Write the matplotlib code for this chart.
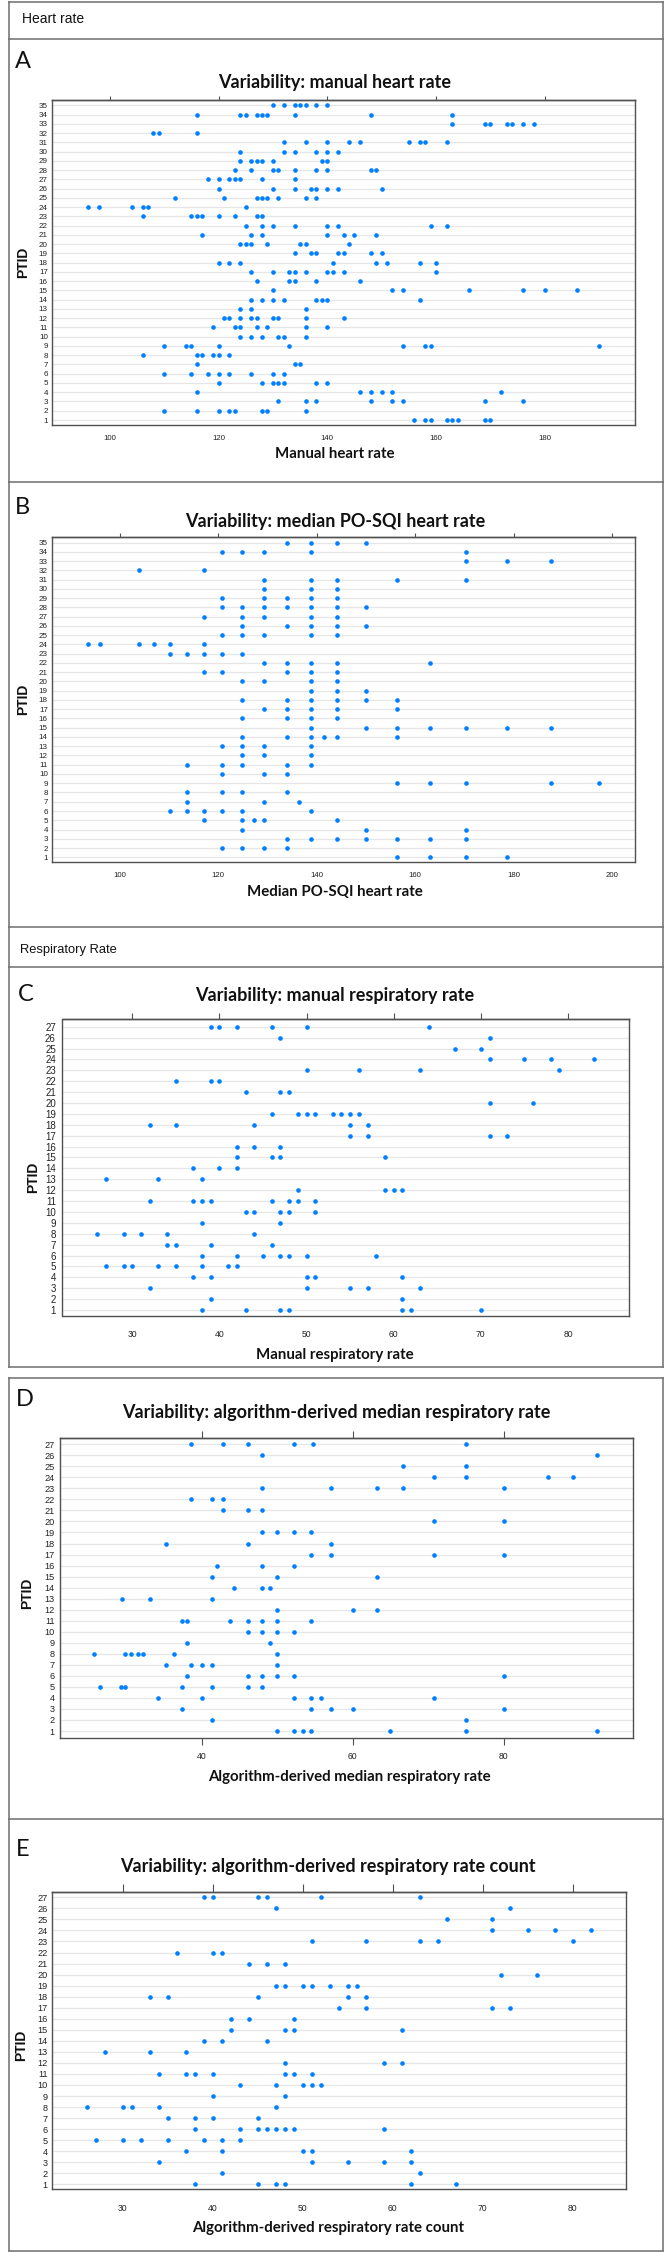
import matplotlib
matplotlib.use("Agg")
import matplotlib.pyplot as plt
from matplotlib.lines import Line2D

# ---------------- data (values per PTID, PTID 1 first) ----------------
hr_manual = [
    [156, 158, 159, 162, 163, 164, 169, 170],
    [110, 116, 120, 122, 123, 128, 129, 136],
    [131, 136, 138, 148, 152, 154, 169, 176],
    [116, 146, 148, 150, 152, 172],
    [120, 128, 130, 131, 132, 138, 140],
    [110, 115, 118, 120, 122, 126, 130, 132],
    [116, 134, 135],
    [106, 116, 117, 119, 120, 122],
    [110, 114, 115, 120, 133, 154, 158, 159, 190],
    [124, 126, 128, 131, 132, 136],
    [119, 123, 124, 127, 129, 136, 140],
    [121, 122, 124, 126, 127, 130, 131, 136, 143],
    [124, 126, 136],
    [126, 128, 130, 132, 138, 139, 140, 157],
    [130, 152, 154, 166, 176, 180, 186],
    [127, 133, 134, 138, 146],
    [126, 130, 133, 134, 136, 140, 141, 143, 160],
    [120, 122, 124, 141, 149, 151, 157, 160],
    [134, 137, 138, 142, 143, 148, 150],
    [124, 125, 126, 129, 135, 136, 144],
    [117, 126, 128, 140, 143, 145, 149],
    [125, 128, 130, 134, 140, 142, 159, 162],
    [106, 115, 116, 117, 120, 123, 127, 128],
    [96, 98, 104, 106, 107, 125],
    [112, 121, 127, 128, 129, 131, 136, 138],
    [120, 130, 134, 137, 138, 140, 142, 150],
    [118, 120, 122, 123, 124, 128, 134],
    [123, 126, 130, 131, 134, 138, 140, 148, 149],
    [124, 126, 127, 128, 130, 139, 140],
    [124, 132, 134, 138, 140, 142],
    [132, 136, 140, 144, 146, 155, 157, 158, 162],
    [108, 109, 116],
    [163, 169, 170, 173, 174, 176, 178],
    [116, 124, 125, 127, 128, 129, 134, 148, 163],
    [130, 132, 134, 135, 136, 138, 140],
]

hr_po_sqi = [
    [156.2, 163.0, 170.4, 178.6],
    [120.8, 124.9, 129.2, 133.9],
    [133.9, 138.8, 144.2, 150.0, 156.2, 163.0, 170.4],
    [124.9, 150.0, 170.4],
    [117.2, 124.9, 127.2, 129.2, 144.2],
    [110.3, 113.6, 117.2, 120.8, 124.9, 138.8],
    [113.6, 129.2, 136.3],
    [113.6, 120.8, 124.9, 133.9],
    [156.2, 163.0, 170.4, 187.6, 197.3],
    [120.8, 129.2, 133.9],
    [113.6, 120.8, 124.9, 133.9, 138.8],
    [124.9, 129.2, 138.8],
    [120.8, 124.9, 129.2, 138.8],
    [124.9, 133.9, 138.8, 141.5, 144.2, 156.2],
    [138.8, 150.0, 156.2, 163.0, 170.4, 178.6, 187.6],
    [124.9, 133.9, 138.8, 144.2],
    [129.2, 133.9, 138.8, 144.2, 156.2],
    [124.9, 133.9, 138.8, 144.2, 150.0, 156.2],
    [138.8, 144.2, 150.0],
    [124.9, 129.2, 138.8, 144.2],
    [117.2, 120.8, 133.9, 138.8, 144.2],
    [129.2, 133.9, 138.8, 144.2, 163.0],
    [110.3, 113.6, 117.2, 120.8, 124.9],
    [93.6, 96.0, 104.0, 107.0, 110.3, 117.2],
    [120.8, 124.9, 129.2, 138.8, 144.2],
    [124.9, 133.9, 138.8, 144.2, 150.0],
    [117.2, 124.9, 129.2, 138.8, 144.2],
    [120.8, 124.9, 129.2, 133.9, 138.8, 144.2, 150.0],
    [120.8, 129.2, 133.9, 138.8, 144.2],
    [129.2, 138.8, 144.2],
    [129.2, 138.8, 144.2, 156.2, 170.4],
    [104.0, 117.2],
    [170.4, 178.6, 187.6],
    [120.8, 124.9, 129.2, 138.8, 170.4],
    [133.9, 138.8, 144.2, 150.0],
]

rr_manual = [
    [38, 43, 47, 48, 61, 62, 70],
    [39, 61],
    [32, 50, 55, 57, 63],
    [37, 39, 50, 51, 61],
    [27, 29, 30, 33, 35, 38, 41, 42],
    [38, 42, 45, 47, 48, 50, 58],
    [34, 35, 39, 46],
    [26, 29, 31, 34, 44],
    [38, 47],
    [43, 44, 47, 48, 51],
    [32, 37, 38, 39, 46, 48, 49, 51],
    [49, 59, 60, 61],
    [27, 33, 38],
    [37, 40, 42],
    [42, 46, 47, 59],
    [42, 44, 47],
    [55, 57, 71, 73],
    [32, 35, 44, 55, 57],
    [46, 49, 50, 51, 53, 54, 55, 56],
    [71, 76],
    [43, 47, 48],
    [35, 39, 40],
    [50, 56, 63, 79],
    [71, 75, 78, 83],
    [67, 70],
    [47, 71],
    [39, 40, 42, 46, 50, 64],
]

rr_algo_median = [
    [50.0, 52.2, 53.4, 54.5, 64.9, 75.0, 92.4],
    [41.4, 75.0],
    [37.4, 54.5, 57.1, 60.0, 80.0],
    [34.2, 40.0, 52.2, 54.5, 55.8, 70.7],
    [26.6, 29.3, 29.9, 37.4, 41.4, 46.2, 48.0],
    [38.1, 46.2, 48.0, 50.0, 52.2, 80.0],
    [35.3, 38.6, 40.0, 41.4, 50.0],
    [25.7, 29.9, 30.7, 31.6, 32.3, 36.3, 50.0],
    [38.1, 49.0],
    [46.2, 48.0, 50.0, 52.2],
    [37.4, 38.1, 43.7, 46.2, 48.0, 50.0, 54.5],
    [50.0, 60.0, 63.2],
    [29.5, 33.2, 41.4],
    [44.3, 48.0, 49.0],
    [41.4, 50.0, 63.2],
    [42.1, 48.0, 52.2],
    [54.5, 57.1, 70.7, 80.0],
    [35.3, 46.2, 57.1],
    [48.0, 50.0, 52.2, 54.5],
    [70.7, 80.0],
    [42.9, 46.2, 48.0],
    [38.6, 41.4, 42.9],
    [48.0, 57.1, 63.2, 66.7, 80.0],
    [70.7, 75.0, 85.8, 89.1],
    [66.7, 75.0],
    [48.0, 92.4],
    [38.6, 42.9, 46.2, 52.2, 54.7, 75.0],
]

rr_algo_count = [
    [38, 45, 47, 48, 62, 67],
    [41, 63],
    [34, 51, 55, 59, 62],
    [37, 41, 50, 51, 62],
    [27, 30, 32, 35, 39, 41, 43],
    [38, 43, 45, 46, 47, 48, 49, 59],
    [35, 38, 40, 45],
    [26, 30, 31, 34, 47],
    [40, 48],
    [43, 47, 50, 51, 52],
    [34, 37, 38, 40, 48, 49, 51],
    [48, 59, 61],
    [28, 33, 37],
    [39, 41, 46],
    [42, 48, 49, 61],
    [42, 44, 49],
    [54, 57, 71, 73],
    [33, 35, 45, 55, 57],
    [47, 48, 50, 51, 53, 55, 56],
    [72, 76],
    [44, 46, 48],
    [36, 40, 41],
    [51, 57, 63, 65, 80],
    [71, 75, 78, 82],
    [66, 71],
    [47, 73],
    [39, 40, 45, 46, 52, 63],
]

titles = [
    "Variability: manual heart rate",
    "Variability: median PO-SQI heart rate",
    "Variability: manual respiratory rate",
    "Variability: algorithm-derived median respiratory rate",
    "Variability: algorithm-derived respiratory rate count",
]
xlabels = [
    "Manual heart rate",
    "Median PO-SQI heart rate",
    "Manual respiratory rate",
    "Algorithm-derived median respiratory rate",
    "Algorithm-derived respiratory rate count",
]
panel_letters = ["A", "B", "C", "D", "E"]
xticks_list = [
    [100, 120, 140, 160, 180],
    [100, 120, 140, 160, 180, 200],
    [30, 40, 50, 60, 70, 80],
    [40, 60, 80],
    [30, 40, 50, 60, 70, 80],
]
datasets = [hr_manual, hr_po_sqi, rr_manual, rr_algo_median, rr_algo_count]

# ---------------- layout (pixels) ----------------
W, H = 666, 2252
fig = plt.figure(figsize=(W / 100, H / 100), dpi=100)


def fx(px):
    return px / W


def fy(py):
    return 1 - py / H


DOT = "#0080ff"
GRID = "#e6e6e6"
FRAME = "#505050"
BOX = "#6e6e6e"

# frame: left, right, top, bottom (px)
frames = [
    (52.3, 635.4, 100.0, 425.0),
    (52.3, 635.4, 536.7, 861.7),
    (62.5, 629.0, 1019.3, 1316.0),
    (59.5, 633.0, 1438.3, 1738.3),
    (52.3, 625.6, 1891.7, 2189.3),
]
xlims = [(89.4, 196.7), (86.3, 204.7), (22.0, 87.0), (21.2, 97.1), (22.15, 85.9)]
ylims = [(0.46, 35.57), (0.52, 35.65), (0.45, 27.68), (0.34, 27.54), (0.55, 27.51)]
title_pos = [(335, 82.7), (335, 521), (334.5, 996), (336, 1412.7), (327.5, 1866.7)]
xlabel_pos = [(334.5, 454), (335, 891.7), (335, 1355), (349.5, 1776.7), (328, 2228.3)]
letter_pos = [(15, 61), (15, 507.5), (18, 994), (16, 1399), (16, 1849)]
ptid_pos = [(23.5, 262), (23.4, 699), (33, 1177), (27.6, 1593), (21, 2045)]
ytick_fs = [5.8, 5.8, 7.0, 6.6, 6.6]
xtick_fs = [5.6, 5.6, 6.2, 6.2, 6.2]
ytick_pad = [3.2, 3.2, 4.8, 3.6, 3.4]
top_len = [3.2, 3.2, 4.6, 4.8, 5.5]
xtick_pad = [7.0, 7.5, 10.2, 5.2, 10.4]
bottom_ticks = [False, False, False, True, False]

for k in range(5):
    data = datasets[k]
    l, r, t, b = frames[k]
    ax = fig.add_axes([fx(l), fy(b), fx(r) - fx(l), fy(t) - fy(b)])
    n = len(data)
    for i, row in enumerate(data, start=1):
        ax.axhline(i, color=GRID, lw=0.9, zorder=1)
        ax.scatter(row, [i] * len(row), s=11, color=DOT, linewidths=0, zorder=3)
    ax.set_xlim(*xlims[k])
    ax.set_ylim(*ylims[k])
    ax.set_yticks(range(1, n + 1))
    ax.set_yticklabels([str(i) for i in range(1, n + 1)],
                       fontsize=ytick_fs[k], family="Liberation Sans", color="#222222")
    ax.set_xticks(xticks_list[k])
    ax.set_xticklabels([str(v) for v in xticks_list[k]],
                       fontsize=xtick_fs[k], family="Liberation Sans", color="#222222")
    ax.tick_params(axis="y", length=0, pad=ytick_pad[k])
    if bottom_ticks[k]:
        ax.tick_params(axis="x", length=top_len[k], width=0.8, color=FRAME,
                       direction="out", pad=xtick_pad[k])
    else:
        ax.tick_params(axis="x", length=0, pad=xtick_pad[k])
    for s in ax.spines.values():
        s.set_color(FRAME)
        s.set_linewidth(1.0)
    sec = ax.secondary_xaxis("top")
    sec.set_xticks(xticks_list[k])
    sec.tick_params(axis="x", length=top_len[k], width=0.8, color=FRAME,
                    direction="out", labeltop=False)
    sec.spines["top"].set_color(FRAME)
    sec.spines["top"].set_linewidth(1.0)

    tx, ty = title_pos[k]
    fig.text(fx(tx), fy(ty), titles[k], ha="center", va="center",
             fontsize=13.0, fontweight="bold", family="Lato", color="#111111")
    lx, ly = xlabel_pos[k]
    fig.text(fx(lx), fy(ly), xlabels[k], ha="center", va="center",
             fontsize=10.8, fontweight="bold", family="Lato", color="#111111")
    px_, py_ = letter_pos[k]
    fig.text(fx(px_), fy(py_), panel_letters[k], ha="left", va="center",
             fontsize=17, family="Lato", color="#111111")
    qx, qy = ptid_pos[k]
    fig.text(fx(qx), fy(qy), "PTID", ha="center", va="center", rotation=90,
             fontsize=10, fontweight="bold", family="Liberation Sans", color="#111111")

# section headers
fig.text(fx(22), fy(19.3), "Heart rate", ha="left", va="center",
         fontsize=10, family="Liberation Sans", color="#111111")
fig.text(fx(20), fy(950), "Respiratory Rate", ha="left", va="center",
         fontsize=9.3, family="Liberation Sans", color="#111111")


def hline(y, x0=8.5, x1=663):
    fig.add_artist(Line2D([fx(x0), fx(x1)], [fy(y), fy(y)], color=BOX, lw=1.1))


def vline(x, y0, y1):
    fig.add_artist(Line2D([fx(x), fx(x)], [fy(y0), fy(y1)], color=BOX, lw=1.1))


# outer boxes
for y in (1.7, 39.3, 482.3, 926.7, 967.3, 1367.3):
    hline(y)
vline(8.5, 1.7, 1367.3)
vline(663, 1.7, 1367.3)
for y in (1378.3, 1819.3, 2250.5):
    hline(y)
vline(8.5, 1378.3, 2250.5)
vline(663, 1378.3, 2250.5)

fig.savefig("out.png", dpi=100)
